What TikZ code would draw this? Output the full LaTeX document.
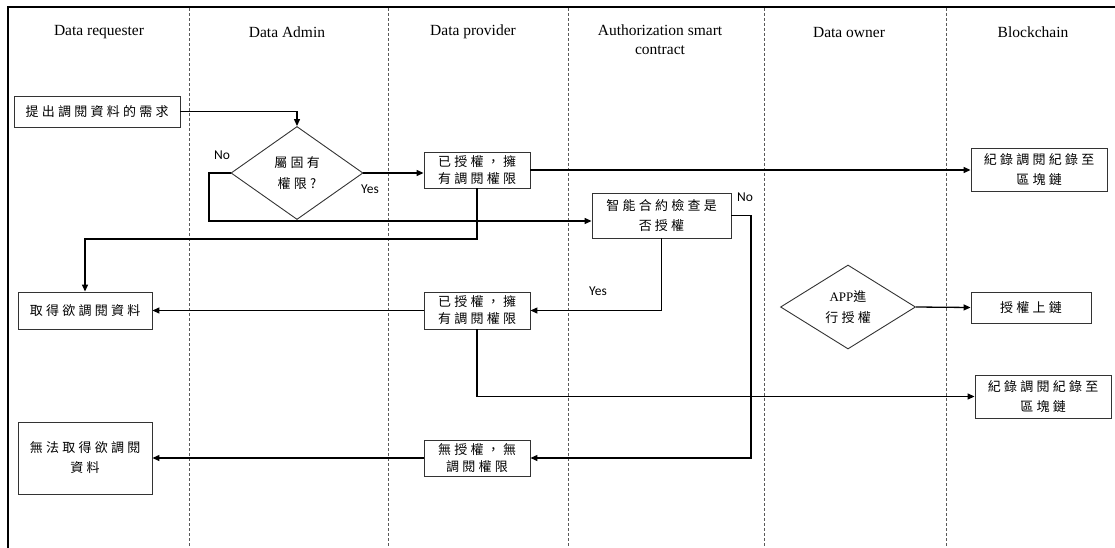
\documentclass[tikz,border=0pt]{standalone}
\usepackage{fontspec}
\setmainfont{Liberation Serif}
\newfontfamily\cjk[LetterSpace=25]{Noto Sans CJK TC}
\newfontfamily\lbl{Carlito}
\usetikzlibrary{arrows.meta,shapes.geometric,calc}

\begin{document}
\begin{tikzpicture}[x=1pt,y=-1pt,
  lane/.style={draw=gray!70!black, dash pattern=on 3pt off 2pt, line width=0.7pt},
  head/.style={font=\fontsize{15.5}{19}\selectfont, align=center, inner sep=0pt},
  sz/.style 2 args={minimum width=#1pt, minimum height=#2pt},
  box/.style={draw=black!80, line width=0.9pt, rectangle, inner sep=0pt, align=center,
    font=\cjk\fontsize{13}{20}\selectfont},
  boxtight/.style={box, font=\cjk\fontsize{13}{17}\selectfont},
  choice/.style={draw=black!80, line width=0.9pt, diamond, inner sep=0pt, align=center,
    font=\cjk\fontsize{13}{21}\selectfont},
  flow/.style={line width=1.3pt, -{Triangle[length=7pt,width=6pt]}},
  tag/.style={font=\lbl\fontsize{13.5}{16}\selectfont, inner sep=0pt},
]
\useasboundingbox (0,0) rectangle (1115,548);

% frame and swimlane separators
\draw[line width=2pt] (8,548) -- (8,7) -- (1115,7);
\foreach \x in {189,388,568,764,946}
  \draw[lane] (\x,8) -- (\x,548);

% lane headings
\node[head] (hreq) at (99,32) {Data requester};
\node[head] (hadm) at (287,32) {Data Admin};
\node[head] (hpro) at (473,32) {Data provider};
\node[head] (hsc)  at (660,40) {Authorization smart\\contract};
\node[head] (hown) at (849,33) {Data owner};
\node[head] (hbc)  at (1033,32) {Blockchain};

% process steps
\node[box, sz={166}{31}] (req) at (97,111.5) {提出調閱資料的需求};
\node[choice, sz={132}{93}] (dia) at (297,173) {屬固有\\權限?};
\node[boxtight, sz={106}{36}] (auth1) at (477,170) {已授權，擁\\有調閱權限};
\node[box, sz={139}{45}] (chk) at (661.5,215.5) {智能合約檢查是\\否授權};
\node[box, sz={136}{43}] (rec1) at (1039,169.5) {紀錄調閱紀錄至\\區塊鏈};
\node[box, sz={134}{37}] (get1) at (85,310.5) {取得欲調閱資料};
\node[boxtight, sz={106}{37}] (auth2) at (477,310.5) {已授權，擁\\有調閱權限};
\node[choice, sz={135}{84}] (app) at (848,307) {{\rmfamily APP}進\\行授權};
\node[box, sz={120}{31}] (sign) at (1031,307.5) {授權上鏈};
\node[box, sz={136}{43}] (rec2) at (1043,396.5) {紀錄調閱紀錄至\\區塊鏈};
\node[boxtight, sz={106}{36}] (noauth) at (477,458) {無授權，無\\調閱權限};
\node[box, sz={134}{72}] (noget) at (85,458) {無法取得欲調閱\\資料};

% branch labels
\node[tag] (no1)  at (222,155) {No};
\node[tag] (yes1) at (370,189) {Yes};
\node[tag] (no2)  at (745,197) {No};
\node[tag] (yes2) at (598,291) {Yes};

% connectors
\coordinate (noturn) at (209,221);
\coordinate (giveturn) at (85,239);
\coordinate (denyturn) at (751,458);

\draw[flow] (req.east) -| (dia.north);
\draw[flow] (dia.east) -- (dia.east -| auth1.west);
\draw[flow] (auth1.east) -- (auth1.east -| rec1.west);
\draw[flow] (dia.west) -| (noturn) -- (noturn -| chk.west);
\draw[flow] (auth1.south) |- (giveturn) -- (get1.north);
\draw[flow] (chk.east) -| (denyturn) -- (noauth.east);
\draw[flow] (chk.south) |- (auth2.east);
\draw[flow] (auth2.west) -- (get1.east);
\draw[flow] (auth2.south) |- (rec2.west);
\draw[flow] (noauth.west) -- (noget.east);
\draw[flow] (app.east) -- (sign.west);
\end{tikzpicture}
\end{document}
